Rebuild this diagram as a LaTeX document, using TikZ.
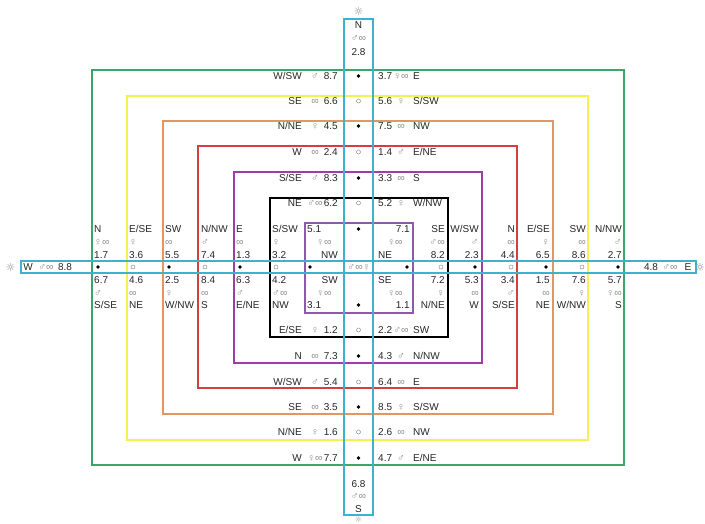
\documentclass[tikz,border=0pt]{standalone}
\usepackage{fontspec}
\setmainfont{Liberation Sans}
\newfontfamily\symfont{DejaVu Sans}
\definecolor{cgreen}{RGB}{55,168,105}
\definecolor{cyellow}{RGB}{248,240,80}
\definecolor{corange}{RGB}{226,150,100}
\definecolor{cred}{RGB}{212,62,62}
\definecolor{cpurple}{RGB}{160,60,170}
\definecolor{cinner}{RGB}{140,90,170}
\definecolor{ccyan}{RGB}{60,178,208}
\newcommand{\hrowlab}[9]{%
  \node[lbl,anchor=east] (#1a) at (302,#2) {#3};
  \node[sym] (#1b) at (315,#2) {#4};
  \node[lbl,anchor=east] (#1c) at (338,#2) {#5};
  \node[#6] (#1d) at (358.5,#2) {};
  \node[lbl,anchor=west] (#1e) at (378,#2) {#7};
  \node[sym] (#1f) at (401,#2) {#8};
  \node[lbl,anchor=west] (#1g) at (413,#2) {#9};}
\newcommand{\lcollab}[9]{%
  \node[lbl,anchor=west] (#1a) at (#2,229) {#3};
  \node[sym,anchor=west] (#1b) at (#2,242) {#4};
  \node[lbl,anchor=west] (#1c) at (#2,255) {#5};
  \node[#6] (#1d) at (#2+4,267) {};
  \node[lbl,anchor=west] (#1e) at (#2,280) {#7};
  \node[sym,anchor=west] (#1f) at (#2,293) {#8};
  \node[lbl,anchor=west] (#1g) at (#2,305) {#9};}
\newcommand{\rcollab}[9]{%
  \node[lbl,anchor=east] (#1a) at (#2,229) {#3};
  \node[sym,anchor=east] (#1b) at (#2,242) {#4};
  \node[lbl,anchor=east] (#1c) at (#2,255) {#5};
  \node[#6] (#1d) at (#2-4,267) {};
  \node[lbl,anchor=east] (#1e) at (#2,280) {#7};
  \node[sym,anchor=east] (#1f) at (#2,293) {#8};
  \node[lbl,anchor=east] (#1g) at (#2,305) {#9};}
\begin{document}
\begin{tikzpicture}[x=1pt,y=-1pt,
  lbl/.style={inner sep=0pt,font=\fontsize{10}{12}\selectfont,text=black!85,text height=7.2pt,text depth=0pt},
  sym/.style={inner sep=0pt,font=\fontsize{10.5}{12}\selectfont,text=black!45,text height=6.8pt,text depth=0pt},
  bdot/.style={circle,fill=black,inner sep=0pt,minimum size=3.8pt},
  hdot/.style={circle,draw=black!45,line width=0.5pt,inner sep=0pt,minimum size=4pt},
  box/.style={line width=1.6pt},
  strip/.style={draw=ccyan,line width=1.5pt},
  sun/.style={inner sep=0pt,font=\symfont\fontsize{11}{12}\selectfont,text=black!45}]
\useasboundingbox (0,0) rectangle (705,523);
% nested rectangles
\draw[box,cgreen]  (92,70)   rectangle (624,465);
\draw[box,cyellow] (127,96)  rectangle (588,440);
\draw[box,corange] (163,121) rectangle (553,414);
\draw[box,cred]    (198,146) rectangle (517,388);
\draw[box,cpurple] (234,172) rectangle (482,363);
\draw[box,black]   (270,198) rectangle (448,337);
\draw[box,cinner]  (305,223) rectangle (413,313);
% strips
\draw[strip] (344,19) rectangle (373,515);
\draw[strip] (21,261) rectangle (696,273);
% suns
\node[sun] (sunN) at (358.5,11) {☼};
\node[sun,font=\symfont\fontsize{8}{9}\selectfont] (sunS) at (358.5,519.5) {☼};
\node[sun] (sunW) at (10.5,267) {☼};
\node[sun] (sunE) at (700,267) {☼};
% vertical strip ends
\node[lbl] (tN) at (358.5,25) {N};
\node[sym] (tNs) at (358.5,38) {♂∞};
\node[lbl] (tNn) at (358.5,52) {2.8};
\node[lbl] (tSn) at (358.5,484) {6.8};
\node[sym] (tSs) at (358.5,496) {♂∞};
\node[lbl] (tS) at (358.5,509) {S};
% horizontal strip ends
\node[lbl] (tW) at (28,267) {W};
\node[sym] (tWs) at (46,267) {♂∞};
\node[lbl] (tWn) at (65,267) {8.8};
\node[lbl] (tEn) at (651,267) {4.8};
\node[sym] (tEs) at (670,267) {♂∞};
\node[lbl] (tE) at (688,267) {E};
% rows above centre
\hrowlab{r1}{76}{W/SW}{♂}{8.7}{bdot}{3.7}{♀∞}{E}
\hrowlab{r2}{101}{SE}{∞}{6.6}{hdot}{5.6}{♀}{S/SW}
\hrowlab{r3}{126}{N/NE}{♀}{4.5}{bdot}{7.5}{∞}{NW}
\hrowlab{r4}{152}{W}{∞}{2.4}{hdot}{1.4}{♂}{E/NE}
\hrowlab{r5}{178}{S/SE}{♂}{8.3}{bdot}{3.3}{∞}{S}
\hrowlab{r6}{203}{NE}{♂∞}{6.2}{hdot}{5.2}{♀}{W/NW}
% rows below centre
\hrowlab{s6}{330}{E/SE}{♀}{1.2}{hdot}{2.2}{♂∞}{SW}
\hrowlab{s5}{356}{N}{∞}{7.3}{bdot}{4.3}{♂}{N/NW}
\hrowlab{s4}{382}{W/SW}{♂}{5.4}{hdot}{6.4}{∞}{E}
\hrowlab{s3}{407}{SE}{∞}{3.5}{bdot}{8.5}{♀}{S/SW}
\hrowlab{s2}{432}{N/NE}{♀}{1.6}{hdot}{2.6}{∞}{NW}
\hrowlab{s1}{458}{W}{♀∞}{7.7}{bdot}{4.7}{♂}{E/NE}
% left columns
\lcollab{c1}{94}{N}{♀∞}{1.7}{bdot}{6.7}{♂}{S/SE}
\lcollab{c2}{129}{E/SE}{♀}{3.6}{hdot}{4.6}{∞}{NE}
\lcollab{c3}{165}{SW}{∞}{5.5}{bdot}{2.5}{♀}{W/NW}
\lcollab{c4}{201}{N/NW}{♂}{7.4}{hdot}{8.4}{∞}{S}
\lcollab{c5}{236}{E}{∞}{1.3}{bdot}{6.3}{♂}{E/NE}
\lcollab{c6}{272}{S/SW}{♀}{3.2}{hdot}{4.2}{♂∞}{NW}
% right columns
\rcollab{d6}{445}{SE}{♂∞}{8.2}{hdot}{7.2}{♀}{N/NE}
\rcollab{d5}{479}{W/SW}{♂}{2.3}{bdot}{5.3}{∞}{W}
\rcollab{d4}{515}{N}{∞}{4.4}{hdot}{3.4}{♂}{S/SE}
\rcollab{d3}{550}{E/SE}{♀}{6.5}{bdot}{1.5}{∞}{NE}
\rcollab{d2}{586}{SW}{∞}{8.6}{hdot}{7.6}{♀}{W/NW}
\rcollab{d1}{622}{N/NW}{♂}{2.7}{bdot}{5.7}{♀∞}{S}
% inner square
\node[lbl,anchor=west] (i1) at (307,229) {5.1};
\node[sym] (i2) at (324,242) {♀∞};
\node[lbl,anchor=east] (i3) at (338,255) {NW};
\node[bdot] (i4) at (310,267) {};
\node[lbl,anchor=east] (i5) at (338,280) {SW};
\node[sym] (i6) at (324,293) {♀∞};
\node[lbl,anchor=west] (i7) at (307,305) {3.1};
\node[bdot] (i8) at (358.5,229) {};
\node[bdot] (i9) at (358.5,305) {};
\node[sym] (ic) at (359,267) {♂∞♀};
\node[lbl,anchor=east] (j1) at (410,229) {7.1};
\node[sym] (j2) at (395,242) {♀∞};
\node[lbl,anchor=west] (j3) at (378,255) {NE};
\node[bdot] (j4) at (407,267) {};
\node[lbl,anchor=west] (j5) at (378,280) {SE};
\node[sym] (j6) at (395,293) {♀∞};
\node[lbl,anchor=east] (j7) at (410,305) {1.1};
\end{tikzpicture}
\end{document}
